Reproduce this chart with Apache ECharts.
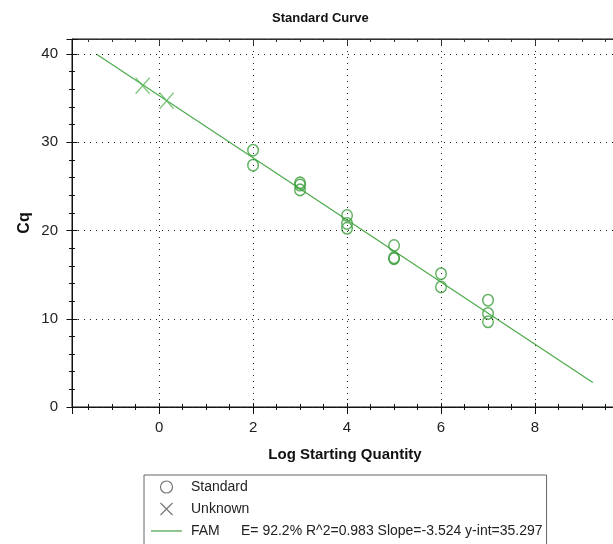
<!DOCTYPE html>
<html>
<head>
<meta charset="utf-8">
<script src="https://cdn.jsdelivr.net/npm/echarts@6/dist/echarts.min.js"></script>
<style>
  html, body { margin: 0; padding: 0; background: #ffffff; }
  #chart { width: 613px; height: 544px; }
</style>
</head>
<body>
<div id="chart"></div>
<script>
// Standards: log starting quantity and measured Cq
const stdLog = [2, 2, 3, 3, 3, 4, 4, 4, 5, 5, 5, 6, 6, 7, 7, 7];
const stdCq  = [29.1, 27.4, 25.4, 25.15, 24.6, 21.7, 20.8, 20.25, 18.3, 16.9, 16.8, 15.1, 13.6, 12.1, 10.6, 9.65];

// Unknown samples
const unkLog = [-0.35, 0.16];
const unkCq  = [36.4, 34.7];

// Linear fit of the standards
const fitName = 'FAM';
const fitEfficiency = 92.2;
const fitR2 = 0.983;
const fitSlope = -3.524;
const fitIntercept = 35.297;
const fitRange = [-1.33, 9.23];

// Axis extents
const xRange = [-1.853, 10];
const yRange = [0, 41.7];

const FONT = '"Liberation Sans", Arial, sans-serif';
const GREEN_PT = '#3a9d3a';
const GREEN_X = '#5cb85c';
const GREEN_LINE = '#4caa4c';

const zip = (a, b) => a.map((v, i) => [v, b[i]]);
const fitData = fitRange.map(x => [x, fitSlope * x + fitIntercept]);
const statsText = 'E= ' + fitEfficiency.toFixed(1) + '% R^2=' + fitR2.toFixed(3) +
  ' Slope=' + fitSlope.toFixed(3) + ' y-int=' + fitIntercept.toFixed(3);

const dotted = { color: '#222', width: 1, type: [1, 5] };

function xAxisBase(extra) {
  return Object.assign({
    type: 'value', min: xRange[0], max: xRange[1], splitNumber: 5,
    axisLine: { show: false, onZero: false },
    axisLabel: { show: false },
    splitLine: { show: false },
    axisTick: { show: false },
    minorTick: { show: false }
  }, extra);
}
function yAxisBase(extra) {
  return Object.assign({
    type: 'value', min: yRange[0], max: yRange[1], interval: 10,
    axisLine: { show: false, onZero: false },
    axisLabel: { show: false },
    splitLine: { show: false },
    axisTick: { show: false },
    minorTick: { show: false }
  }, extra);
}

const chart = echarts.init(document.getElementById('chart'), null, { renderer: 'canvas' });
chart.setOption({
  backgroundColor: '#ffffff',
  animation: false,
  title: {
    text: 'Standard Curve',
    left: 272, top: 12, padding: 0,
    textStyle: { fontFamily: FONT, fontSize: 13, fontWeight: 'bold', color: '#111' }
  },
  grid: {
    left: 72, top: 39, right: -16, bottom: 137,
    show: true, borderColor: '#111', borderWidth: 1, backgroundColor: 'transparent',
    containLabel: false, outerBoundsMode: 'none'
  },
  xAxis: [
    xAxisBase({
      position: 'bottom',
      name: 'Log Starting Quantity', nameLocation: 'middle', nameGap: 40,
      nameMoveOverlap: false,
      nameTextStyle: { fontFamily: FONT, fontSize: 15, fontWeight: 'bold', color: '#111', padding: [0, 11, 0, 0] },
      axisLine: { show: true, onZero: false, lineStyle: { color: '#111', width: 1 } },
      axisLabel: { show: true, showMinLabel: false, margin: 13, fontFamily: FONT, fontSize: 15, color: '#222' },
      splitLine: { show: true, lineStyle: dotted },
      axisTick: { show: true, inside: false, length: 7, lineStyle: { color: '#111' } },
      minorTick: { show: true, splitNumber: 4, length: 3, lineStyle: { color: '#111' } }
    }),
    xAxisBase({
      position: 'bottom',
      axisTick: { show: true, inside: true, length: 4, lineStyle: { color: '#111' } },
      minorTick: { show: true, splitNumber: 4, length: 3, lineStyle: { color: '#111' } }
    }),
    xAxisBase({
      position: 'top',
      axisLine: { show: true, onZero: false, lineStyle: { color: '#333', width: 1 } },
      axisTick: { show: true, inside: true, length: 6, lineStyle: { color: '#333' } },
      minorTick: { show: true, splitNumber: 4, length: 3, lineStyle: { color: '#333' } }
    })
  ],
  yAxis: [
    yAxisBase({
      position: 'left', z: 5,
      name: 'Cq', nameLocation: 'middle', nameGap: 39, nameMoveOverlap: false,
      nameTextStyle: { fontFamily: FONT, fontSize: 16, fontWeight: 'bold', color: '#111' },
      axisLine: { show: true, onZero: false, lineStyle: { color: '#111', width: 1 } },
      axisLabel: { show: true, showMaxLabel: false, margin: 14, fontFamily: FONT, fontSize: 15, color: '#222' },
      splitLine: { show: true, lineStyle: dotted },
      axisTick: { show: true, inside: false, length: 5.5, lineStyle: { color: '#111' } },
      minorTick: { show: true, splitNumber: 5, length: 3, lineStyle: { color: '#111' } }
    }),
    yAxisBase({
      position: 'left', z: 5,
      axisTick: { show: true, inside: true, length: 5.5, lineStyle: { color: '#111' } },
      minorTick: { show: true, splitNumber: 5, length: 3, lineStyle: { color: '#111' } }
    })
  ],
  legend: {
    orient: 'vertical',
    left: 144, top: 475, height: 120,
    padding: [4, 4, 12, 7],
    itemWidth: 31, itemHeight: 12, itemGap: 6,
    selectedMode: false,
    borderColor: '#666', borderWidth: 1,
    symbolKeepAspect: true,
    textStyle: {
      fontFamily: FONT, fontSize: 14, color: '#222', lineHeight: 16,
      rich: {
        n: { fontFamily: FONT, fontSize: 14, color: '#222', padding: [0, 0, 0, 4] },
        f: { fontFamily: FONT, fontSize: 14, color: '#222', width: 50, padding: [0, 0, 0, 4] },
        s: { fontFamily: FONT, fontSize: 14, color: '#222' }
      }
    },
    formatter: name => name === fitName ? '{f|' + name + '}{s|' + statsText + '}' : '{n|' + name + '}',
    data: [
      { name: 'Standard', icon: 'circle',
        itemStyle: { color: 'rgba(0,0,0,0)', borderColor: '#555', borderWidth: 1.2 } },
      { name: 'Unknown', icon: 'path://M0,0L10,10M10,0L0,10',
        itemStyle: { color: 'rgba(0,0,0,0)', borderColor: '#555', borderWidth: 1.2 } },
      { name: fitName, icon: 'path://M0,0H31V1H0Z',
        itemStyle: { color: '#1f8a1f', borderWidth: 0 } }
    ]
  },
  series: [
    {
      name: fitName, type: 'line', xAxisIndex: 0, yAxisIndex: 0,
      data: fitData, symbol: 'none', z: 2,
      lineStyle: { color: GREEN_LINE, width: 1.2 },
      itemStyle: { color: GREEN_LINE }
    },
    {
      name: 'Standard', type: 'scatter', xAxisIndex: 0, yAxisIndex: 0,
      data: zip(stdLog, stdCq), symbol: 'circle', symbolSize: [10.5, 11.5], z: 3,
      itemStyle: { color: 'rgba(0,0,0,0)', borderColor: GREEN_PT, borderWidth: 1.5 }
    },
    {
      name: 'Unknown', type: 'scatter', xAxisIndex: 0, yAxisIndex: 0,
      data: zip(unkLog, unkCq), symbol: 'path://M0,0L10,10M10,0L0,10',
      symbolSize: [14, 16], symbolKeepAspect: false, z: 3,
      itemStyle: { color: 'rgba(0,0,0,0)', borderColor: GREEN_X, borderWidth: 1.4 }
    }
  ]
});
</script>
</body>
</html>
